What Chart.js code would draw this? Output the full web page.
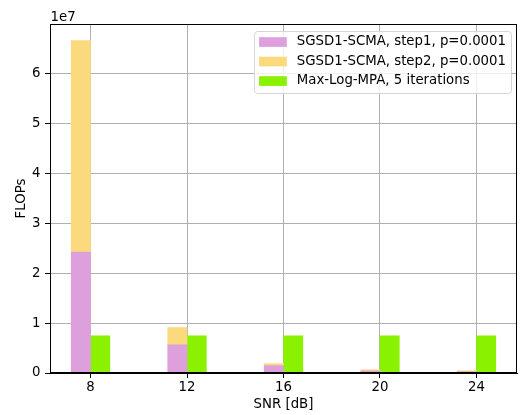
<!DOCTYPE html>
<html>
<head>
<meta charset="utf-8">
<script src="https://cdn.jsdelivr.net/npm/chart.js@4"></script>
<style>
  body { margin: 0; background: #fff; }
  canvas { display: block; }
</style>
</head>
<body>
<canvas id="chart" width="520" height="415"></canvas>
<script>
// SNR points on the x axis
const snr = [8, 12, 16, 20, 24];
// FLOPs per scheme
const step1 = [2.42e7, 0.565e7, 0.147e7, 0.04e7, 0.025e7];
const step2 = [4.24e7, 0.345e7, 0.04e7, 0.026e7, 0.02e7];
const maxLog = [0.745e7, 0.745e7, 0.745e7, 0.745e7, 0.745e7];
const labels = ['SGSD1-SCMA, step1, p=0.0001', 'SGSD1-SCMA, step2, p=0.0001', 'Max-Log-MPA, 5 iterations'];
const colors = ['#dda0dd', '#fada7d', '#8af200'];
const xTicks = [8, 12, 16, 20, 24];
const yTicks = [0, 1e7, 2e7, 3e7, 4e7, 5e7, 6e7];

const FS = 13.3;
Chart.defaults.font.family = 'DejaVu Sans';
Chart.defaults.font.size = FS;
Chart.defaults.color = '#000';

// matplotlib-like legend inside the axes + top/right spines + offset text
const mplDecor = {
  id: 'mplDecor',
  afterDraw(chart) {
    const ctx = chart.ctx;
    const a = chart.chartArea;
    ctx.save();
    // spines
    ctx.strokeStyle = '#000';
    ctx.lineWidth = 1;
    ctx.strokeRect(Math.round(a.left) + 0.5, Math.round(a.top) + 0.5,
      Math.round(a.right - a.left) - 1, Math.round(a.bottom - a.top) - 1);
    // offset text
    ctx.font = FS + 'px "DejaVu Sans"';
    ctx.fillStyle = '#000';
    ctx.textAlign = 'left';
    ctx.textBaseline = 'alphabetic';
    ctx.fillText('1e7', a.left + 0.5, a.top - 3);
    // legend
    const right = a.right - 6;
    const top = a.top + 7;
    let tw = 0;
    labels.forEach(l => { tw = Math.max(tw, ctx.measureText(l).width); });
    const w = 5 + 27.7 + 10 + tw + 5;
    const h = 62;
    const left = right - w;
    ctx.beginPath();
    ctx.roundRect(left + 0.5, top + 0.5, w, h, 3);
    ctx.fillStyle = 'rgba(255,255,255,0.8)';
    ctx.fill();
    ctx.strokeStyle = '#d6d6d6';
    ctx.stroke();
    ctx.textBaseline = 'middle';
    labels.forEach((l, i) => {
      const cy = top + 11 + i * 19.5;
      ctx.fillStyle = colors[i];
      ctx.fillRect(left + 5, cy - 4.8, 27.7, 9.7);
      ctx.fillStyle = '#000';
      ctx.fillText(l, left + 5 + 27.7 + 10, cy);
    });
    ctx.restore();
  }
};

new Chart(document.getElementById('chart'), {
  type: 'bar',
  data: {
    datasets: [
      {
        label: labels[0],
        data: snr.map((s, i) => ({ x: s - 0.4, y: step1[i] })),
        backgroundColor: colors[0],
        stack: 's'
      },
      {
        label: labels[1],
        data: snr.map((s, i) => ({ x: s - 0.4, y: step2[i] })),
        backgroundColor: colors[1],
        stack: 's'
      },
      {
        label: labels[2],
        data: snr.map((s, i) => ({ x: s + 0.4, y: maxLog[i] })),
        backgroundColor: colors[2],
        stack: 'g'
      }
    ]
  },
  options: {
    responsive: false,
    animation: false,
    grouped: false,
    barPercentage: 1,
    categoryPercentage: 1,
    borderWidth: 0,
    layout: { padding: { left: 0, right: 3, top: 24, bottom: 0 } },
    scales: {
      x: {
        type: 'linear',
        min: 6.32,
        max: 25.68,
        offset: false,
        z: 1,
        afterBuildTicks: s => { s.ticks = xTicks.map(v => ({ value: v })); },
        afterFit: s => { s.height = 42; },
        ticks: { padding: 2, callback: v => String(v), maxRotation: 0 },
        grid: { offset: false, color: '#b0b0b0', lineWidth: 1, tickColor: '#000', tickLength: 5 },
        border: { color: '#000', width: 1 },
        title: { display: true, text: 'SNR [dB]', padding: { top: 0, bottom: 2.5 } }
      },
      y: {
        min: 0,
        max: 6.99e7,
        stacked: true,
        z: 1,
        afterBuildTicks: s => { s.ticks = yTicks.map(v => ({ value: v })); },
        afterFit: s => { s.width = 50; },
        ticks: { padding: 4.5, callback: v => String(Math.round(v / 1e7)) },
        grid: { color: '#b0b0b0', lineWidth: 1, tickColor: '#000', tickLength: 5 },
        border: { color: '#000', width: 1 },
        title: { display: true, text: 'FLOPs', padding: { top: 13.7, bottom: 0 } }
      }
    },
    plugins: {
      legend: { display: false },
      tooltip: { enabled: false }
    }
  },
  plugins: [mplDecor]
});
</script>
</body>
</html>
